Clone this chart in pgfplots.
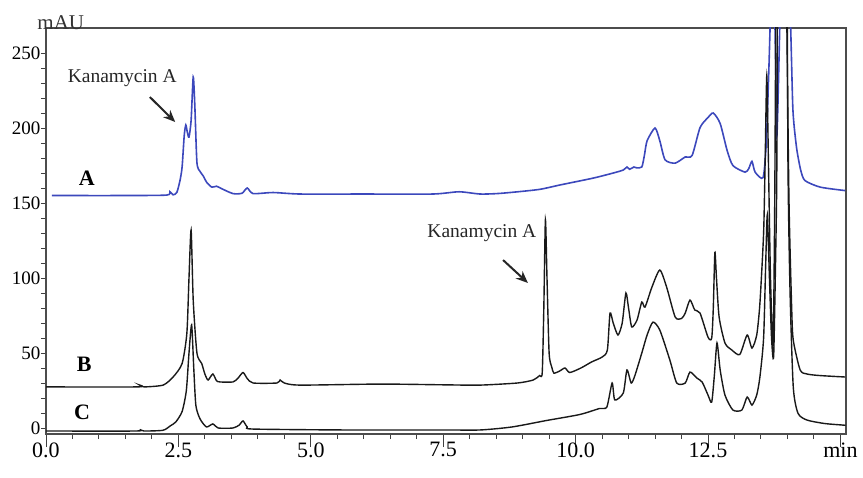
\documentclass[border=0pt]{standalone}
\usepackage{pgfplots}
\pgfplotsset{compat=1.18}
\usepackage{fontspec}
\setmainfont{Liberation Serif}
\usetikzlibrary{arrows.meta}
\definecolor{traceblue}{RGB}{60,72,188}
\definecolor{tracegray}{RGB}{25,25,25}
\begin{document}
\begin{tikzpicture}
\begin{axis}[
  scale only axis, width=800pt, height=406pt,
  xmin=0, xmax=15.106, ymin=-4, ymax=266.7,
  axis line style={black!70, line width=1.1pt},
  xtick pos=bottom, ytick pos=left,
  tick align=outside,
  xtick={0,2.5,5,7.5,10,12.5,15},
  xticklabels={0.0,2.5,5.0,7.5,10.0,12.5,min},
  minor x tick num=4,
  ytick={0,50,100,150,200,250},
  yticklabels={0,50,100,150,200,250},
  minor y tick num=4,
  major tick length=5pt, minor tick length=5pt,
  xtick style={/pgfplots/major tick length=13pt},
  tick style={black!75, line width=1pt},
  xticklabel style={font=\fontsize{22}{24}\selectfont},
  yticklabel style={font=\fontsize{19}{21}\selectfont, xshift=3pt},
  clip mode=individual,
]
% Trace A (blue)
\addplot[traceblue, line width=1.6pt, smooth, tension=0.4] coordinates {
(0.11,155) (1.5,155) (2.28,155.3) (2.34,157.5) (2.40,155.5) (2.47,157) (2.53,165) (2.57,174)
(2.61,195) (2.64,202) (2.67,197) (2.70,194) (2.74,205) (2.78,234) (2.81,215) (2.85,177)
(2.91,171) (2.97,168) (3.03,164) (3.13,160.6) (3.22,161.2) (3.32,159.5) (3.53,156.3)
(3.70,156.5) (3.80,160) (3.91,156.3) (4.29,157) (4.80,156) (6.0,156) (7.3,156) (7.8,157.5)
(8.2,156) (8.6,156.5) (9.3,159) (9.70,162) (10.33,166.6) (10.71,170) (10.90,172) (10.97,174)
(11.02,172.5) (11.10,174) (11.15,173.5) (11.25,174) (11.30,182) (11.35,191.5) (11.50,200)
(11.59,191.5) (11.69,178.8) (11.88,176.6) (12.07,180.7) (12.20,181.7) (12.35,200.3)
(12.50,207) (12.60,210) (12.73,203) (12.86,185.2) (12.97,175) (13.20,170.6) (13.27,173)
(13.33,177.8) (13.39,170.6) (13.54,167) (13.60,190) (13.65,240) (13.68,275) (13.72,300)
(13.76,275) (13.785,225) (13.80,195) (13.82,215) (13.85,260) (13.88,300) (13.95,350)
(14.0,350) (14.04,290) (14.065,262) (14.10,215) (14.13,200) (14.18,185) (14.25,172)
(14.33,165) (14.62,160.6) (15.09,158.3)
};
% Trace B (black)
\addplot[tracegray, line width=1.4pt, smooth, tension=0.4] coordinates {
(0.00,27.4) (1.72,27.4) (1.77,28.6) (1.85,27.4) (2.21,28.6) (2.40,34) (2.57,43) (2.66,63.3)
(2.70,100) (2.74,132) (2.78,85) (2.85,50) (2.94,43) (3.00,36) (3.06,32) (3.15,36) (3.22,31.5)
(3.29,30.7) (3.53,30.7) (3.62,33) (3.72,37) (3.80,33) (3.91,30) (4.36,30) (4.42,32) (4.50,30)
(4.80,28.6) (6.31,29.3) (7.5,28.8) (8.19,28.6) (8.9,30) (9.20,32) (9.32,35) (9.37,37)
(9.40,80) (9.43,138.7) (9.46,100) (9.50,50) (9.55,40.6) (9.59,36.6) (9.70,38) (9.80,40)
(9.89,37) (10.1,40) (10.3,44) (10.50,47.3) (10.60,52) (10.65,76.6) (10.71,70) (10.80,62)
(10.88,70) (10.95,90) (11.00,80) (11.06,67.4) (11.16,72) (11.25,84) (11.31,80.6) (11.44,93.8)
(11.59,105.3) (11.72,93.8) (11.88,74) (12.00,73) (12.07,76.6) (12.16,85.3) (12.25,78.7)
(12.35,76.6) (12.50,60.6) (12.57,60) (12.60,80) (12.63,117) (12.66,100) (12.71,74)
(12.82,56.7) (12.95,52) (13.10,49) (13.24,62) (13.33,53.3) (13.42,62) (13.48,83) (13.55,130)
(13.58,180) (13.61,235) (13.64,180) (13.68,100) (13.73,55) (13.76,150) (13.78,266) (13.82,400)
(13.95,400) (13.99,266) (14.03,150) (14.08,80) (14.11,58.6) (14.24,38.7) (14.37,36)
(14.6,35) (15.09,34)
};
% Trace C (black)
\addplot[tracegray, line width=1.4pt, smooth, tension=0.4] coordinates {
(0.00,-2) (1.70,-2) (1.77,-1) (1.85,-2) (2.21,-1.5) (2.35,1.5) (2.45,4) (2.57,11) (2.65,25)
(2.70,50) (2.75,68.7) (2.79,40) (2.83,15) (2.91,6) (3.03,0.7) (3.15,2.7) (3.25,0) (3.53,0)
(3.65,2) (3.72,4.7) (3.80,0.7) (3.91,-0.7) (5.6,-1.3) (7.5,-1.3) (8.2,-1.3) (8.8,0.7)
(9.45,5) (10.08,9) (10.45,13) (10.59,14) (10.69,30) (10.74,18.7) (10.90,23.3) (10.97,38.7)
(11.05,30) (11.12,35) (11.25,50) (11.35,62) (11.46,70.6) (11.59,65.3) (11.78,45.3) (11.91,30)
(12.07,30) (12.16,37.3) (12.29,33.3) (12.39,30.6) (12.50,22) (12.57,17.3) (12.62,35)
(12.67,56.7) (12.73,38.7) (12.82,22) (12.97,12) (13.14,12) (13.24,20.7) (13.33,15.3)
(13.42,22) (13.48,34) (13.55,60) (13.59,110) (13.62,142) (13.66,100) (13.70,60) (13.74,48)
(13.78,120) (13.80,176) (13.83,400) (13.97,400) (14.01,176) (14.05,90) (14.11,27.3)
(14.20,9.8) (14.37,5.3) (14.7,3) (15.03,2) (15.1,1.8)
};
\node[anchor=base, font=\fontsize{21}{24}\selectfont, text=black!80, yshift=-2pt] at (axis cs:0.28,266.7) {mAU};
\node[font=\fontsize{19.5}{22}\selectfont, text=black!85] at (axis cs:1.44,233) {Kanamycin A};
\node[font=\fontsize{19.5}{22}\selectfont, text=black!85] at (axis cs:8.23,130) {Kanamycin A};
\draw[-{Stealth[length=12pt,width=10pt]}, line width=2pt, black!85] (axis cs:1.96,220.7) -- (axis cs:2.44,204);
\draw[-{Stealth[length=12pt,width=10pt]}, line width=2pt, black!85] (axis cs:8.63,112) -- (axis cs:9.10,96.7);
\node[font=\bfseries\fontsize{22}{24}\selectfont] at (axis cs:0.77,166.7) {A};
\node[font=\bfseries\fontsize{22}{24}\selectfont] at (axis cs:0.72,42.7) {B};
\node[font=\bfseries\fontsize{22}{24}\selectfont] at (axis cs:0.68,10.7) {C};
\end{axis}
\pgfresetboundingbox
\path ([shift={(-46pt,-43pt)}]current axis.south west) rectangle ([shift={(17pt,28pt)}]current axis.north east);
\end{tikzpicture}
\end{document}
